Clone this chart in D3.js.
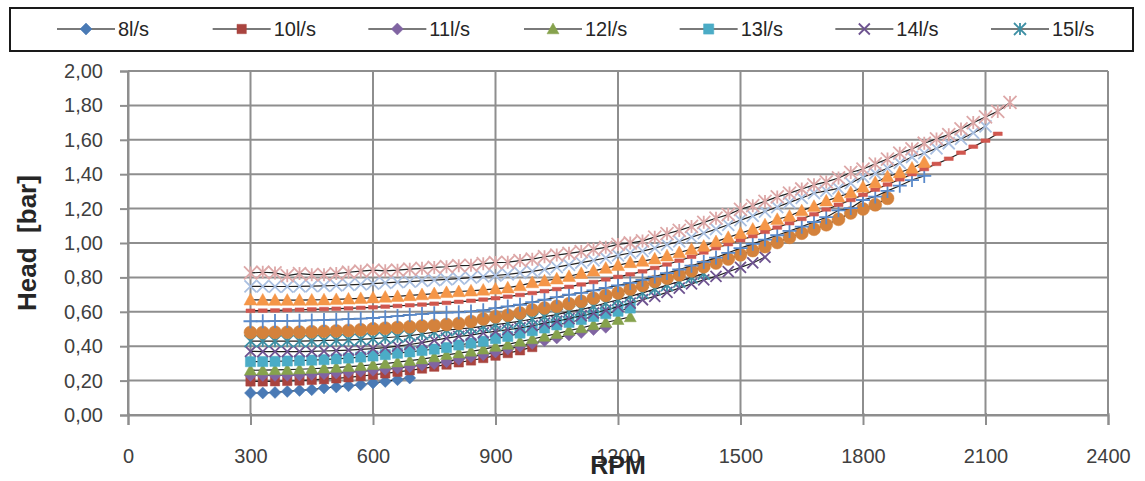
<!DOCTYPE html>
<html><head><meta charset="utf-8">
<script src="https://cdn.jsdelivr.net/npm/d3@7"></script>
<style>
body{margin:0;background:#fff}
svg{display:block}
text{font-family:"Liberation Sans",Arial,sans-serif}
</style>
</head><body>
<svg id="chart" width="1145" height="481"></svg>
<script>
// ---------- DATA ----------
const rpm = [300,330,360,390,420,450,480,510,540,570,600,630,660,690,720,750,780,810,840,870,900,930,960,990,1020,1050,1080,1110,1140,1170,1200,1230,1260,1290,1320,1350,1380,1410,1440,1470,1500,1530,1560,1590,1620,1650,1680,1710,1740,1770,1800,1830,1860,1890,1920,1950,1980,2010,2040,2070,2100,2130,2160];

const seriesNames = ["8l/s","10l/s","11l/s","12l/s","13l/s","14l/s","15l/s","16l/s","17l/s","18l/s","19l/s","20l/s","21l/s"];
const legendNames = ["8l/s","10l/s","11l/s","12l/s","13l/s","14l/s","15l/s"];

const s8  = [0.128,0.128,0.131,0.137,0.143,0.147,0.157,0.163,0.170,0.176,0.186,0.195,0.205,0.215];
const s10 = [0.195,0.195,0.196,0.198,0.200,0.204,0.208,0.213,0.219,0.226,0.234,0.242,0.251,0.260,0.270,0.281,0.293,0.306,0.317,0.331,0.345,0.360,0.376,0.395];
const s11 = [0.230,0.230,0.230,0.231,0.233,0.236,0.240,0.244,0.249,0.254,0.260,0.266,0.273,0.281,0.290,0.299,0.310,0.324,0.339,0.351,0.366,0.383,0.399,0.416,0.432,0.448,0.465,0.480,0.497,0.510];
const s12 = [0.260,0.261,0.262,0.264,0.266,0.269,0.272,0.276,0.281,0.286,0.292,0.299,0.307,0.316,0.325,0.337,0.350,0.360,0.370,0.382,0.398,0.410,0.427,0.442,0.457,0.473,0.491,0.506,0.524,0.538,0.554,0.570];
const s13 = [0.310,0.311,0.312,0.314,0.316,0.319,0.322,0.326,0.331,0.337,0.343,0.351,0.359,0.367,0.375,0.383,0.392,0.407,0.418,0.429,0.444,0.457,0.476,0.490,0.506,0.524,0.538,0.555,0.573,0.589,0.603,0.622];
const s14 = [0.370,0.369,0.368,0.368,0.369,0.370,0.372,0.374,0.377,0.381,0.386,0.392,0.400,0.410,0.421,0.434,0.447,0.457,0.464,0.477,0.486,0.496,0.507,0.519,0.534,0.545,0.560,0.577,0.593,0.609,0.630,0.650,0.670,0.690,0.713,0.738,0.762,0.786,0.806,0.833,0.858,0.884,0.918];
const s15 = [0.430,0.430,0.429,0.429,0.430,0.431,0.433,0.435,0.437,0.440,0.444,0.449,0.455,0.462,0.471,0.482,0.494,0.500,0.506,0.515,0.525,0.535,0.545,0.558,0.572,0.584,0.601,0.613,0.631,0.651,0.670,0.690,0.710,0.732,0.755,0.776,0.800,0.822];
const s16 = [0.480,0.480,0.481,0.481,0.482,0.484,0.487,0.489,0.492,0.496,0.501,0.505,0.509,0.513,0.517,0.521,0.526,0.532,0.544,0.558,0.571,0.580,0.593,0.611,0.622,0.632,0.647,0.661,0.679,0.695,0.710,0.732,0.753,0.776,0.795,0.815,0.838,0.862,0.884,0.907,0.931,0.956,0.979,1.003,1.033,1.057,1.080,1.106,1.138,1.175,1.198,1.222,1.260];
const s17 = [0.545,0.545,0.546,0.547,0.548,0.550,0.552,0.554,0.557,0.560,0.564,0.569,0.575,0.582,0.587,0.592,0.595,0.597,0.602,0.609,0.621,0.631,0.641,0.656,0.670,0.685,0.699,0.710,0.724,0.739,0.754,0.768,0.786,0.805,0.825,0.846,0.868,0.890,0.915,0.943,0.970,0.995,1.020,1.045,1.070,1.095,1.122,1.150,1.190,1.203,1.250,1.270,1.303,1.333,1.366,1.390];
const s18 = [0.606,0.607,0.608,0.610,0.612,0.614,0.616,0.618,0.620,0.623,0.626,0.630,0.634,0.638,0.642,0.647,0.652,0.658,0.664,0.671,0.679,0.688,0.698,0.709,0.720,0.732,0.745,0.759,0.773,0.788,0.803,0.818,0.835,0.855,0.875,0.897,0.920,0.945,0.970,0.993,1.016,1.040,1.065,1.090,1.115,1.140,1.167,1.195,1.222,1.250,1.280,1.310,1.340,1.370,1.400,1.430,1.460,1.490,1.525,1.560,1.595,1.635];
const s19 = [0.670,0.669,0.668,0.668,0.668,0.669,0.670,0.672,0.675,0.678,0.682,0.686,0.690,0.695,0.700,0.706,0.713,0.718,0.722,0.727,0.733,0.740,0.752,0.770,0.780,0.792,0.806,0.824,0.838,0.854,0.870,0.887,0.895,0.908,0.926,0.945,0.964,0.982,1.008,1.033,1.057,1.081,1.106,1.138,1.157,1.188,1.214,1.245,1.268,1.294,1.326,1.352,1.386,1.410,1.436,1.469];
const s20 = [0.748,0.748,0.747,0.747,0.748,0.749,0.751,0.753,0.756,0.760,0.764,0.768,0.772,0.776,0.780,0.784,0.788,0.793,0.799,0.805,0.811,0.818,0.826,0.835,0.847,0.860,0.873,0.886,0.899,0.913,0.928,0.942,0.953,0.970,0.990,1.009,1.034,1.057,1.081,1.106,1.133,1.158,1.183,1.209,1.236,1.262,1.290,1.303,1.318,1.348,1.385,1.405,1.435,1.466,1.500,1.522,1.550,1.580,1.605,1.640,1.678];
const s21 = [0.826,0.830,0.826,0.810,0.822,0.816,0.816,0.822,0.830,0.836,0.842,0.838,0.842,0.848,0.853,0.858,0.862,0.868,0.870,0.880,0.886,0.888,0.898,0.906,0.920,0.930,0.940,0.950,0.963,0.975,0.992,1.000,1.012,1.034,1.054,1.073,1.096,1.120,1.144,1.165,1.196,1.217,1.242,1.268,1.290,1.314,1.338,1.355,1.378,1.410,1.430,1.460,1.488,1.522,1.547,1.580,1.605,1.630,1.663,1.700,1.733,1.765,1.817];

const seriesValues = [s8,s10,s11,s12,s13,s14,s15,s16,s17,s18,s19,s20,s21];

const xTicks = [0,300,600,900,1200,1500,1800,2100,2400];
const yTicks = [0,0.2,0.4,0.6,0.8,1.0,1.2,1.4,1.6,1.8,2.0];

// ---------- STYLES ----------
const styles = {
  "8l/s":  {shape:"diamond",  color:"#4A7AB5", size:12},
  "10l/s": {shape:"square",   color:"#A9443F", size:11},
  "11l/s": {shape:"diamond",  color:"#8064A2", size:12},
  "12l/s": {shape:"triangle", color:"#86A24D", size:12},
  "13l/s": {shape:"square",   color:"#4BACC6", size:12},
  "14l/s": {shape:"x",        color:"#6E5390", size:11},
  "15l/s": {shape:"asterisk", color:"#3E8FA4", size:12},
  "16l/s": {shape:"circle",   color:"#D4823C", size:13},
  "17l/s": {shape:"plus",     color:"#5A8ACB", size:14},
  "18l/s": {shape:"dash",     color:"#D0574F", size:9},
  "19l/s": {shape:"triangle", color:"#F59648", size:13},
  "20l/s": {shape:"x",        color:"#A9BFE0", size:12},
  "21l/s": {shape:"asterisk", color:"#DDA8A8", size:13}
};

function markerPath(shape, s) {
  const h = s/2;
  switch (shape) {
    case "diamond": return `M0,${-h}L${h},0L0,${h}L${-h},0Z`;
    case "square": return `M${-h*0.85},${-h*0.85}H${h*0.85}V${h*0.85}H${-h*0.85}Z`;
    case "triangle": return `M0,${-h}L${h},${h*0.8}L${-h},${h*0.8}Z`;
    case "circle": return `M${-h},0A${h},${h} 0 1,0 ${h},0A${h},${h} 0 1,0 ${-h},0Z`;
    case "x": return `M${-h},${-h}L${h},${h}M${-h},${h}L${h},${-h}`;
    case "asterisk": return `M${-h},${-h}L${h},${h}M${-h},${h}L${h},${-h}M0,${-h}L0,${h}`;
    case "plus": return `M${-h},0L${h},0M0,${-h}L0,${h}`;
    case "dash": return `M${-h},-1.8H${h}V1.8H${-h}Z`;
  }
}
const stroked = {x:true, asterisk:true, plus:true};

// ---------- CHART ----------
const svg = d3.select("#chart");
const W = 1145, H = 481;
const m = {left:128, right:W-1108, top:71, bottom:H-415};

svg.append("rect").attr("width",W).attr("height",H).attr("fill","#fff");

const x = d3.scaleLinear().domain([0,2400]).range([m.left, W-m.right]);
const y = d3.scaleLinear().domain([0,2]).range([H-m.bottom, m.top]);

const gridColor = "#8E8E8E";
const g = svg.append("g");

// gridlines
g.append("g").selectAll("line").data(yTicks).join("line")
  .attr("x1", x(0)).attr("x2", x(2400))
  .attr("y1", d=>y(d)).attr("y2", d=>y(d))
  .attr("stroke", gridColor).attr("stroke-width", 2);
g.append("g").selectAll("line").data(xTicks).join("line")
  .attr("x1", d=>x(d)).attr("x2", d=>x(d))
  .attr("y1", y(0)).attr("y2", y(2))
  .attr("stroke", gridColor).attr("stroke-width", 2);

// axes
const fmt = d => d3.format(".2f")(d).replace(".", ",");
const yAxis = d3.axisLeft(y).tickValues(yTicks).tickFormat(fmt).tickSize(8).tickPadding(17);
const xAxis = d3.axisBottom(x).tickValues(xTicks).tickFormat(d3.format("d")).tickSize(10).tickPadding(24);

const ya = svg.append("g").attr("transform",`translate(${m.left},0)`).call(yAxis);
const xa = svg.append("g").attr("transform",`translate(0,${H-m.bottom})`).call(xAxis);
[ya, xa].forEach(a => {
  a.select(".domain").attr("stroke", gridColor).attr("stroke-width", 2);
  a.selectAll(".tick line").attr("stroke", gridColor).attr("stroke-width", 2);
  a.selectAll(".tick text").attr("fill","#404040").style("font-size","20px")
   .style("font-family",'"Liberation Sans",Arial,sans-serif');
});
ya.selectAll(".tick line").attr("x2", -8);
xa.selectAll(".tick line").attr("y1", -2);

// series
const line = d3.line().x(d=>x(d.r)).y(d=>y(d.v));
const plot = svg.append("g");
seriesNames.forEach((name, i) => {
  const pts = seriesValues[i].map((v, j) => ({r: rpm[j], v}));
  const st = styles[name];
  const sg = plot.append("g");
  sg.append("path").datum(pts).attr("d", line)
    .attr("fill","none").attr("stroke","#1f1f1f").attr("stroke-width",1.2);
  sg.selectAll("path.mk").data(pts).join("path").attr("class","mk")
    .attr("transform", d=>`translate(${x(d.r)},${y(d.v)})`)
    .attr("d", markerPath(st.shape, st.size))
    .attr("fill", stroked[st.shape] ? "none" : st.color)
    .attr("stroke", st.color)
    .attr("stroke-width", stroked[st.shape] ? 1.8 : 0.5);
});

// axis titles
svg.append("text")
  .attr("transform", `translate(36,${(y(0)+y(2))/2}) rotate(-90)`)
  .attr("text-anchor","middle")
  .style("font-size","26px").style("font-weight","bold").style("white-space","pre")
  .attr("fill","#262626")
  .text("Head  [bar]");
svg.append("text")
  .attr("x", (x(0)+x(2400))/2).attr("y", 474)
  .attr("text-anchor","middle")
  .style("font-size","25px").style("font-weight","bold")
  .attr("fill","#262626")
  .text("RPM");

// legend
const lg = svg.append("g");
lg.append("rect").attr("x",10).attr("y",8).attr("width",1123).attr("height",43)
  .attr("fill","#fff").attr("stroke","#1a1a1a").attr("stroke-width",2);
const legX = d3.scalePoint().domain(legendNames).range([86, 1020]);
legendNames.forEach(name => {
  const st = styles[name];
  const cx = legX(name), cy = 29;
  lg.append("line").attr("x1", cx-29).attr("x2", cx+29).attr("y1", cy).attr("y2", cy)
    .attr("stroke","#7a7a7a").attr("stroke-width",2);
  lg.append("path").attr("transform",`translate(${cx},${cy})`)
    .attr("d", markerPath(st.shape, st.size))
    .attr("fill", stroked[st.shape] ? "none" : st.color)
    .attr("stroke", st.color)
    .attr("stroke-width", stroked[st.shape] ? 1.8 : 0.5);
  lg.append("text").attr("x", cx+32).attr("y", cy+7)
    .style("font-size","20px").attr("fill","#262626").text(name);
});
</script>
</body></html>
